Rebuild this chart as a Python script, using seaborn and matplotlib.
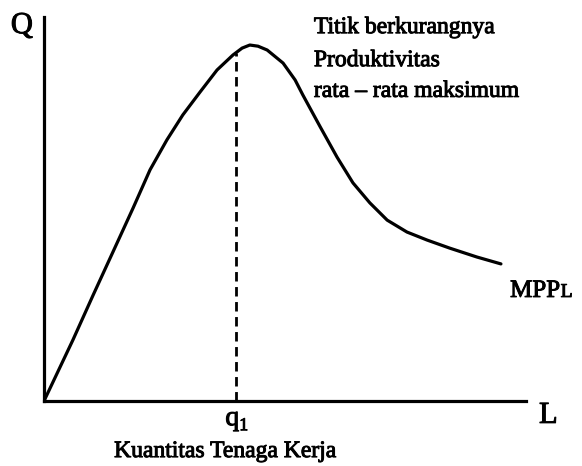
import matplotlib
matplotlib.use("Agg")
import matplotlib.pyplot as plt
import matplotlib.patheffects as pe
import seaborn as sns
import pandas as pd

# Marginal physical product of labour (MPPL) curve, labour on x, output on y
labor = [0.0, 6.0, 10.2, 14.3, 18.5, 22.0, 25.5, 28.8, 32.4, 35.9, 39.2,
         41.1, 42.7, 44.4, 46.3, 49.6, 52.1, 53.7, 57.3, 60.8, 64.1, 67.6,
         71.2, 75.3, 79.5, 84.2, 89.8, 94.8]
output = [0.0, 15.9, 27.6, 38.8, 50.3, 60.2, 68.0, 74.5, 80.5, 86.2, 90.1,
          91.9, 92.7, 92.4, 91.4, 88.0, 83.6, 79.7, 71.4, 63.5, 56.8, 51.6,
          47.1, 44.0, 41.9, 39.8, 37.5, 35.7]

# Labour quantity at the point of maximum average productivity
q1_labor = 39.8
q1_output = 90.6

note_lines = ["Titik berkurangnya", "Produktivitas", "rata \u2013 rata maksimum"]
x_label = "Kuantitas Tenaga Kerja"
curve_label = ("MPP", "L")

df = pd.DataFrame({"L": labor, "Q": output})

sns.set_theme(style="white")
plt.rcParams["font.family"] = ["Liberation Serif", "DejaVu Serif"]

fig = plt.figure(figsize=(5.82, 4.66), dpi=100)
ax = fig.add_axes([44 / 582, 65 / 466, 482 / 582, 384 / 466])
ax.set_xlim(0, 100)
ax.set_ylim(0, 100)

sns.lineplot(data=df, x="L", y="Q", sort=False, color="black",
             linewidth=2.3, ax=ax, solid_joinstyle="round",
             solid_capstyle="round")
ax.plot([q1_labor, q1_labor], [0, q1_output], color="black",
        linewidth=2.0, linestyle=(0, (3.4, 2.0)))

for side in ("top", "right"):
    ax.spines[side].set_visible(False)
for side in ("left", "bottom"):
    ax.spines[side].set_color("black")
    ax.spines[side].set_linewidth(2.3)
ax.set_xticks([])
ax.set_yticks([])
ax.set_xlabel("")
ax.set_ylabel("")

heavy = [pe.withStroke(linewidth=0.7, foreground="black")]
txt = dict(color="black", va="baseline", clip_on=False, path_effects=heavy)
ax.text(-4.6, 95.8, "Q", fontsize=22, ha="center", **txt)
ax.text(102.7, -5.7, "L", fontsize=22, ha="left", **txt)
ax.text(q1_labor + 0.7, -6.3, "q", fontsize=20, ha="right", **txt)
ax.text(q1_labor + 0.7, -7.6, "1", fontsize=13, ha="left", **txt)
ax.text(37.6, -14.6, x_label, fontsize=17, ha="center", **txt)

for line, y in zip(note_lines, [95.8, 87.2, 79.2]):
    ax.text(56.0, y, line, fontsize=17, ha="left", **txt)

ax.text(96.7, 27.1, curve_label[0], fontsize=18, ha="left", **txt)
ax.text(107.2, 27.1, curve_label[1], fontsize=14, ha="left", **txt)

fig.savefig("out.png", dpi=100, facecolor="white")
